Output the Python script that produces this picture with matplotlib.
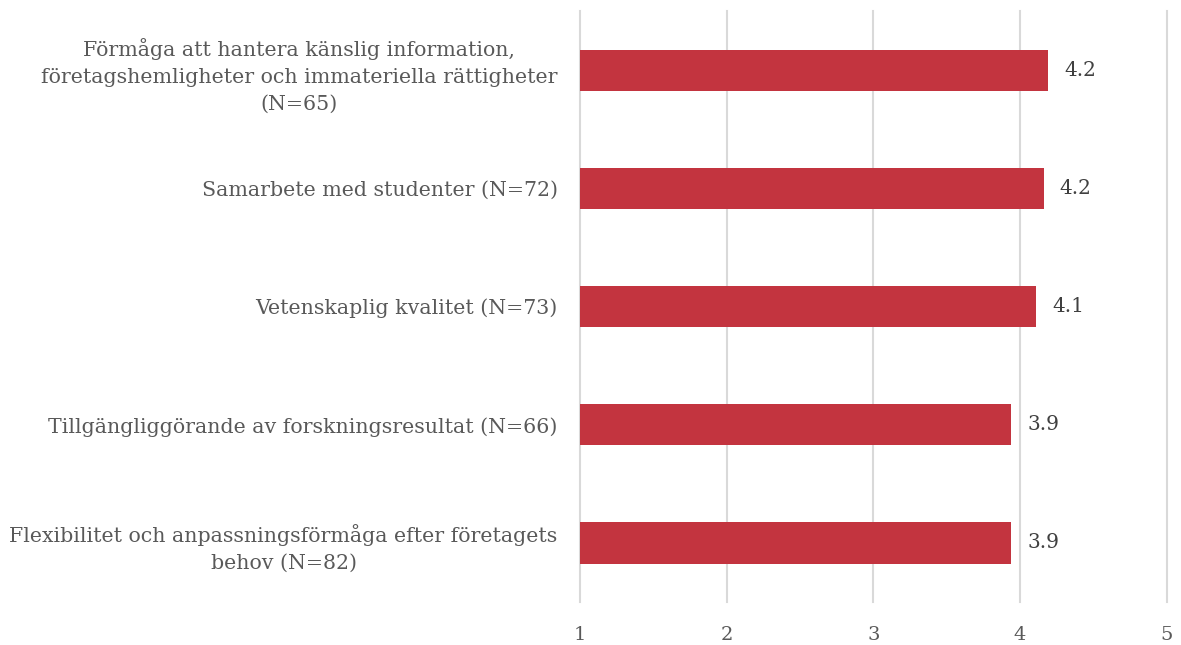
import matplotlib
matplotlib.use('Agg')
import matplotlib.pyplot as plt

# data (top to bottom as shown)
categories = [
    "Förmåga att hantera känslig information,\nföretagshemligheter och immateriella rättigheter\n(N=65)",
    "Samarbete med studenter (N=72)",
    "Vetenskaplig kvalitet (N=73)",
    "Tillgängliggörande av forskningsresultat (N=66)",
    "Flexibilitet och anpassningsförmåga efter företagets\nbehov (N=82)",
]
values = [4.19, 4.16, 4.11, 3.94, 3.94]
value_labels = ["4.2", "4.2", "4.1", "3.9", "3.9"]
xticks = [1, 2, 3, 4, 5]

plt.rcParams['font.family'] = ['DejaVu Serif']

fig = plt.figure(figsize=(11.81, 6.45), dpi=100)
ax = fig.add_axes([0.491, 0.0667, 0.497, 0.916])

y = list(range(len(categories)))
base = 1
ax.barh(y, [v - base for v in values], left=base, height=0.35, color='#C3343F', zorder=3)

for yi, v, lab in zip(y, values, value_labels):
    ax.text(v + 0.11, yi, lab, va='center', ha='left', fontsize=14.5, color='#404040')

ax.set_xlim(1, 5)
ax.set_ylim(len(categories) - 0.5, -0.5)
ax.set_xticks(xticks)
ax.set_xticklabels([str(t) for t in xticks])
ax.set_yticks(y)
ax.set_yticklabels(categories)
ax.tick_params(axis='x', length=0, pad=17, labelsize=14, labelcolor='#595959')
ax.tick_params(axis='y', length=0, pad=16, labelsize=14.8, labelcolor='#595959')
for lab in ax.get_yticklabels():
    lab.set_multialignment('center')
    lab.set_linespacing(1.5)
ax.grid(axis='x', color='#d9d9d9', linewidth=1.5, zorder=0)
for gl in ax.get_xgridlines():
    gl.set_clip_on(False)
for s in ax.spines.values():
    s.set_visible(False)

plt.savefig('out.png', dpi=100)
plt.close()
